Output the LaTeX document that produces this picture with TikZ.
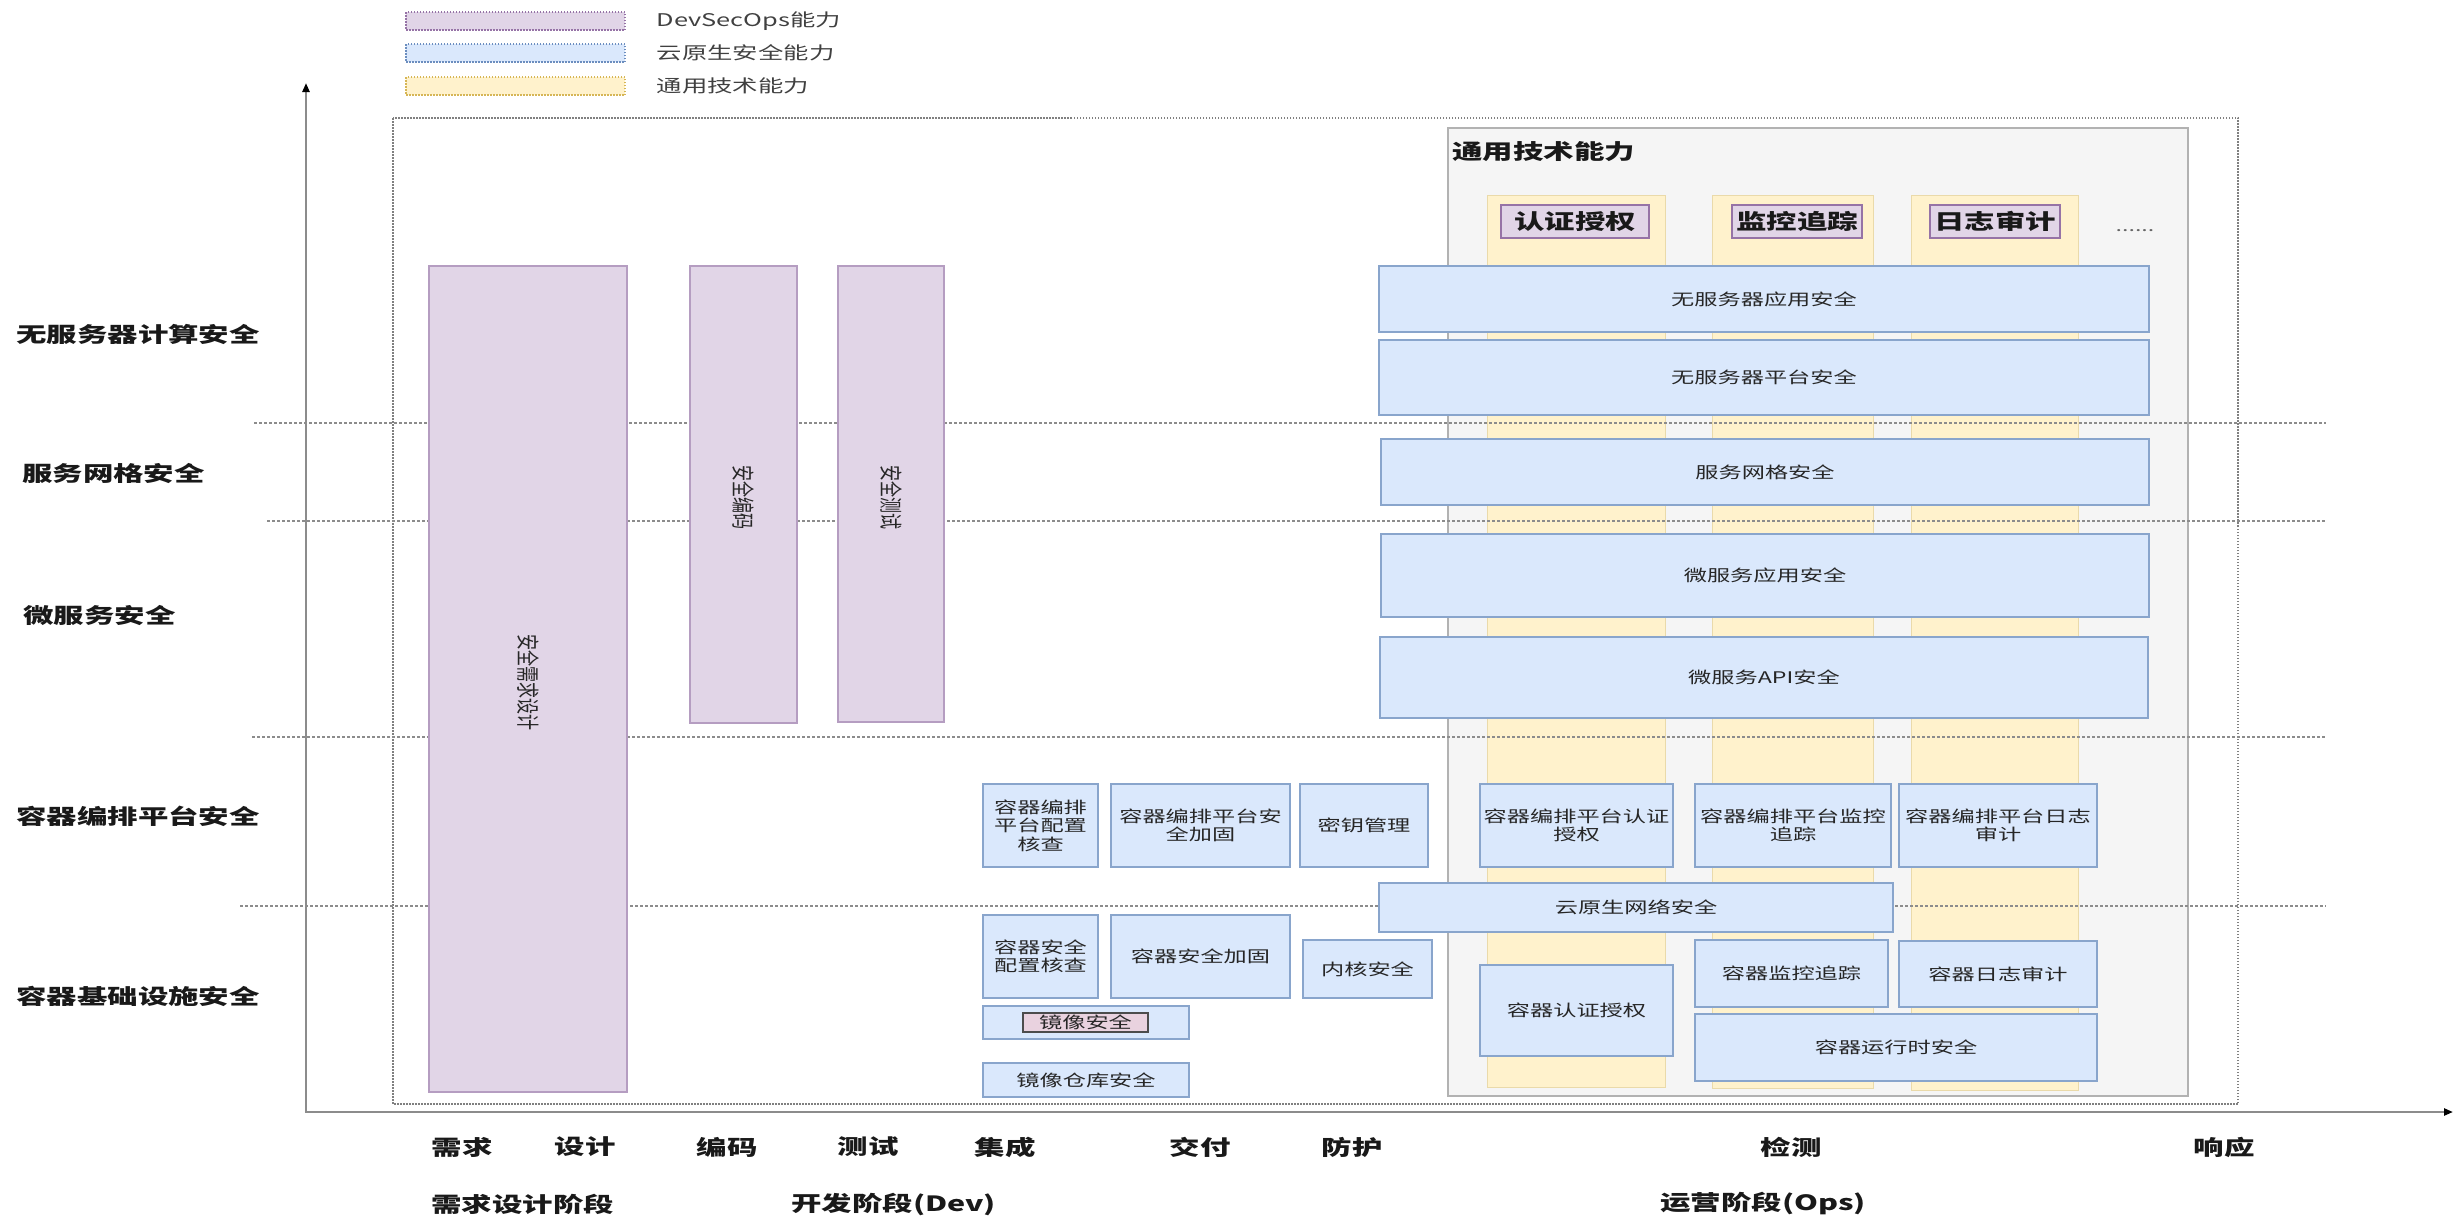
\documentclass[tikz,border=0pt]{standalone}
\usepackage{fontspec}
\usepackage{graphicx}
\setmainfont{Noto Sans CJK SC}[FakeStretch=1.45]
\newfontfamily\plaincjk{Noto Sans CJK SC}
\usetikzlibrary{arrows.meta,fit,positioning}

\definecolor{devfill}{HTML}{E1D5E7}
\definecolor{devline}{HTML}{9673A6}
\definecolor{cloudfill}{HTML}{DAE8FC}
\definecolor{cloudline}{HTML}{6C8EBF}
\definecolor{techfill}{HTML}{FFF2CC}
\definecolor{techline}{HTML}{D6B656}
\definecolor{framefill}{HTML}{F5F5F5}
\definecolor{pinkfill}{HTML}{E9D2DF}
\definecolor{txtgray}{HTML}{262626}

\begin{document}
\begin{tikzpicture}[x=1pt,y=-1pt,
  txt/.style={font=\fontsize{16}{18.5}\selectfont,text=txtgray,align=center},
  captxt/.style={font=\fontsize{21}{24}\selectfont\bfseries,text=black!90,inner sep=0pt},
  legtxt/.style={font=\fontsize{17.5}{20}\selectfont,text=black!75,inner sep=0pt},
  legbox/.style={inner sep=0pt,line width=1.2pt,dash pattern=on 1.5pt off 1.5pt},
  devbox/.style={inner sep=0pt,fill=devfill,draw=devline!70,line width=1.2pt},
  cloudframe/.style={inner sep=0pt,fill=cloudfill,draw=cloudline!80,line width=1.2pt},
  cloudbox/.style={cloudframe,label={[txt]center:#1}},
  techcol/.style={inner sep=0pt,fill=techfill,draw=techline!50,line width=1pt},
  headbox/.style={inner sep=0pt,fill=devfill,draw=devline,line width=1.2pt,label={[captxt]center:#1}},
  sepline/.style={black!45,line width=1.2pt,dash pattern=on 2.5pt off 2.5pt},
  axisline/.style={black!45,line width=2.5pt}]

\useasboundingbox (0,0) rectangle (2456,1216);

% legend
\node[legbox,fill=devfill,draw=devline,fit={(406,12) (625,30)}] (leg-dev) {};
\node[legbox,fill=cloudfill,draw=cloudline,fit={(406,44) (625,62)}] (leg-cloud) {};
\node[legbox,fill=techfill,draw=techline,fit={(406,77) (625,95)}] (leg-tech) {};
\node[legtxt,right=31pt of leg-dev] (leg-dev-t) {DevSecOps能力};
\node[legtxt,right=31pt of leg-cloud] (leg-cloud-t) {云原生安全能力};
\node[legtxt,right=31pt of leg-tech] (leg-tech-t) {通用技术能力};

% frames
\draw[black!50,line width=1.2pt,dash pattern=on 1.5pt off 1.5pt] (393,118) rectangle (2238,1104);
\node[inner sep=0pt,fill=framefill,draw=black!30,line width=1.5pt,fit={(1448,128) (2188,1096)}] (tech-frame) {};
\node[captxt,anchor=west] (tech-title) at (1452,152) {通用技术能力};

% common technology columns
\node[techcol,fit={(1487,195) (1665,1087)}] (col-auth) {};
\node[techcol,fit={(1712,195) (1873,1088)}] (col-mon) {};
\node[techcol,fit={(1911,195) (2078,1090)}] (col-log) {};
\node[headbox=认证授权,fit={(1501,205) (1649,238)}] (head-auth) {};
\node[headbox=监控追踪,fit={(1732,205) (1862,238)}] (head-mon) {};
\node[headbox=日志审计,fit={(1930,205) (2060,238)}] (head-log) {};
\node[txt,text=black!60] (more) at (2135,231) {......};

% layer separators
\foreach \y/\x in {423/254, 521/267, 737/252, 906/240}
  \draw[sepline] (\x,\y) -- (2326,\y);

% axes
\coordinate (origin) at (306,1112);
\coordinate (ytip) at (306,83);
\coordinate (xtip) at (2453,1112);
\draw[axisline,-{Triangle[color=black,length=9pt,width=7pt]}] (origin) -- (ytip);
\draw[axisline,-{Triangle[color=black,length=9pt,width=7pt]}] ([xshift=-1.2pt]origin) -- (xtip);

% DevSecOps bars
\node[devbox,fit={(429,266) (627,1092)}] (bar-req) {};
\node[devbox,fit={(690,266) (797,723)}] (bar-code) {};
\node[devbox,fit={(838,266) (944,722)}] (bar-test) {};
\node[txt,rotate=-90] (bar-req-t) at ([yshift=-3pt]bar-req.center) {\scalebox{1}[1.45]{\plaincjk 安全需求设计}};
\node[txt,rotate=-90] (bar-code-t) at ([yshift=-3pt]bar-code.center) {\scalebox{1}[1.45]{\plaincjk 安全编码}};
\node[txt,rotate=-90] (bar-test-t) at ([yshift=-3pt]bar-test.center) {\scalebox{1}[1.45]{\plaincjk 安全测试}};

% serverless, service mesh, microservice
\node[cloudbox=无服务器应用安全,fit={(1379,266) (2149,332)}] (sl-app) {};
\node[cloudbox=无服务器平台安全,fit={(1379,340) (2149,415)}] (sl-plat) {};
\node[cloudbox=服务网格安全,fit={(1381,439) (2149,505)}] (mesh) {};
\node[cloudbox=微服务应用安全,fit={(1381,534) (2149,617)}] (ms-app) {};
\node[cloudbox=微服务API安全,fit={(1380,637) (2148,718)}] (ms-api) {};

% container orchestration
\node[cloudbox={容器编排\\平台配置\\核查},fit={(983,784) (1098,867)}] (co-check) {};
\node[cloudbox={容器编排平台安\\全加固},fit={(1111,784) (1290,867)}] (co-harden) {};
\node[cloudbox=密钥管理,fit={(1300,784) (1428,867)}] (co-key) {};
\node[cloudbox={容器编排平台认证\\授权},fit={(1480,784) (1673,867)}] (co-auth) {};
\node[cloudbox={容器编排平台监控\\追踪},fit={(1695,784) (1891,867)}] (co-mon) {};
\node[cloudbox={容器编排平台日志\\审计},fit={(1899,784) (2097,867)}] (co-log) {};
\node[cloudbox=云原生网络安全,fit={(1379,883) (1893,932)}] (net) {};

% container infrastructure
\node[cloudbox={容器安全\\配置核查},fit={(983,915) (1098,998)}] (ci-check) {};
\node[cloudbox=容器安全加固,fit={(1111,915) (1290,998)}] (ci-harden) {};
\node[cloudbox=内核安全,fit={(1303,940) (1432,998)}] (ci-kernel) {};
\node[cloudframe,fit={(983,1006) (1189,1039)}] (ci-image) {};
\node[inner sep=0pt,fill=pinkfill,draw=black!70,line width=1.5pt,fit={(1023,1013) (1148,1032)},label={[txt]center:镜像安全}] (ci-image-t) {};
\node[cloudbox=镜像仓库安全,fit={(983,1063) (1189,1097)}] (ci-repo) {};
\node[cloudbox=容器认证授权,fit={(1480,965) (1673,1056)}] (ci-auth) {};
\node[cloudbox=容器监控追踪,fit={(1695,940) (1888,1007)}] (ci-mon) {};
\node[cloudbox=容器日志审计,fit={(1899,941) (2097,1007)}] (ci-log) {};
\node[cloudbox=容器运行时安全,fit={(1695,1014) (2097,1081)}] (ci-run) {};

% layer labels
\node[captxt,anchor=west] (row-sl) at (16,334) {无服务器计算安全};
\node[captxt,anchor=west] (row-mesh) at (22,473) {服务网格安全};
\node[captxt,anchor=west] (row-ms) at (23,615) {微服务安全};
\node[captxt,anchor=west] (row-co) at (16,816) {容器编排平台安全};
\node[captxt,anchor=west] (row-ci) at (16,996) {容器基础设施安全};

% stages
\foreach \t/\x [count=\i] in {需求/462, 设计/585, 编码/727, 测试/868, 集成/1005, 交付/1200, 防护/1352, 检测/1791, 响应/2224}
  \node[captxt] (stage\i) at (\x,1147) {\t};
\node[captxt,anchor=west] (phase-req) at (431,1204) {需求设计阶段};
\node[captxt,anchor=west] (phase-dev) at (791,1204) {开发阶段(Dev)};
\node[captxt,anchor=west] (phase-ops) at (1660,1204) {运营阶段(Ops)};

\end{tikzpicture}
\end{document}
